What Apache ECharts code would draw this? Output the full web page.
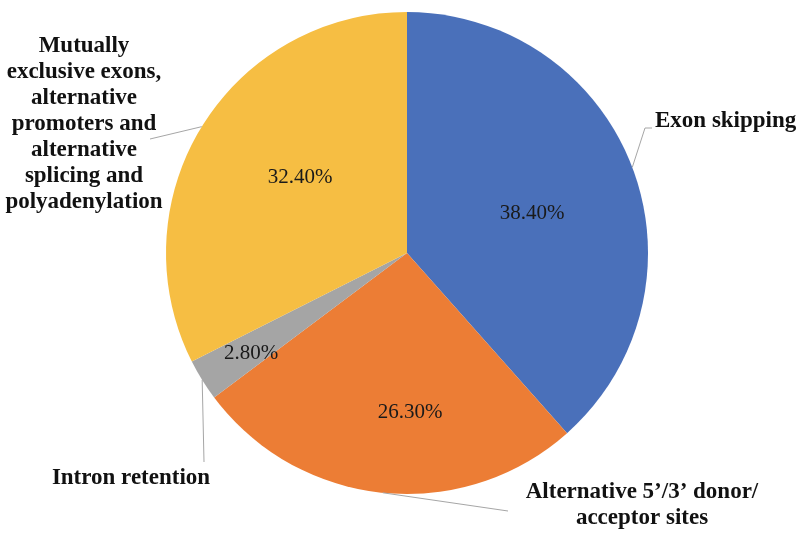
<!DOCTYPE html>
<html>
<head>
<meta charset="utf-8">
<script src="https://cdn.jsdelivr.net/npm/echarts@6/dist/echarts.min.js"></script>
<style>html,body{margin:0;padding:0;background:#fff}#c{width:800px;height:534px}</style>
</head>
<body>
<div id="c"></div>
<script>
// ---- data ----
var categories = [
  'Exon skipping',
  'Alternative 5\u2019/3\u2019 donor/ acceptor sites',
  'Intron retention',
  'Mutually exclusive exons, alternative promoters and alternative splicing and polyadenylation'
];
var values = [38.4, 26.3, 2.8, 32.4];
var valueLabels = ['38.40%', '26.30%', '2.80%', '32.40%'];
var categoryLabels = [
  'Exon skipping',
  'Alternative 5\u2019/3\u2019 donor/\nacceptor sites',
  'Intron retention',
  'Mutually\nexclusive exons,\nalternative\npromoters and\nalternative\nsplicing and\npolyadenylation'
];

// ---- styles / layout (not data) ----
var colors = ['#4A70BA', '#EC7D35', '#A5A5A5', '#F6BE43'];
var innerLabelPos = [[532, 213], [410, 412], [251, 353], [300, 177]];
var outerLabelPos = [[655, 121], [642, 505], [131, 478], [84, 124]];
var outerAlign = ['left', 'center', 'center', 'center'];
var outerGuide = [
  [[645, 128], [652, 128]],
  [[508, 511]],
  [[204, 462]],
  [[150, 139]]
];

var chart = echarts.init(document.getElementById('c'), null, {renderer: 'canvas'});
var serif = '"Liberation Serif", "Times New Roman", Times, serif';

var innerData = categories.map(function (c, i) {
  return {name: c, value: values[i], itemStyle: {color: colors[i]}};
});
var outerData = categories.map(function (c, i) {
  return {
    name: c, value: values[i],
    itemStyle: {color: 'rgba(0,0,0,0)'},
    label: {align: outerAlign[i]}
  };
});

chart.setOption({
  animation: false,
  backgroundColor: '#ffffff',
  series: [
    {
      type: 'pie',
      center: [407, 253],
      radius: 241,
      startAngle: 90,
      clockwise: true,
      avoidLabelOverlap: false,
      silent: true,
      data: innerData,
      itemStyle: {borderWidth: 0},
      label: {
        show: true,
        position: 'inside',
        formatter: function (p) { return valueLabels[p.dataIndex]; },
        fontFamily: serif,
        fontSize: 21,
        color: '#1a1a1a'
      },
      labelLine: {show: false},
      labelLayout: function (p) {
        var pos = innerLabelPos[p.dataIndex];
        return {x: pos[0], y: pos[1], align: 'center', verticalAlign: 'middle'};
      }
    },
    {
      type: 'pie',
      center: [407, 253],
      radius: 241,
      startAngle: 90,
      clockwise: true,
      avoidLabelOverlap: false,
      silent: true,
      z: 3,
      data: outerData,
      label: {
        show: true,
        position: 'outside',
        formatter: function (p) { return categoryLabels[p.dataIndex]; },
        fontFamily: serif,
        fontWeight: 'bold',
        fontSize: 23,
        lineHeight: 26,
        color: '#111111'
      },
      labelLine: {show: true, length: 10, length2: 10, lineStyle: {color: '#A6A6A6', width: 1}},
      labelLayout: function (p) {
        var i = p.dataIndex;
        var pos = outerLabelPos[i];
        var pts = [p.labelLinePoints[0]].concat(outerGuide[i]);
        return {
          x: pos[0], y: pos[1],
          align: outerAlign[i],
          verticalAlign: 'middle',
          labelLinePoints: pts
        };
      }
    }
  ]
});
</script>
</body>
</html>
